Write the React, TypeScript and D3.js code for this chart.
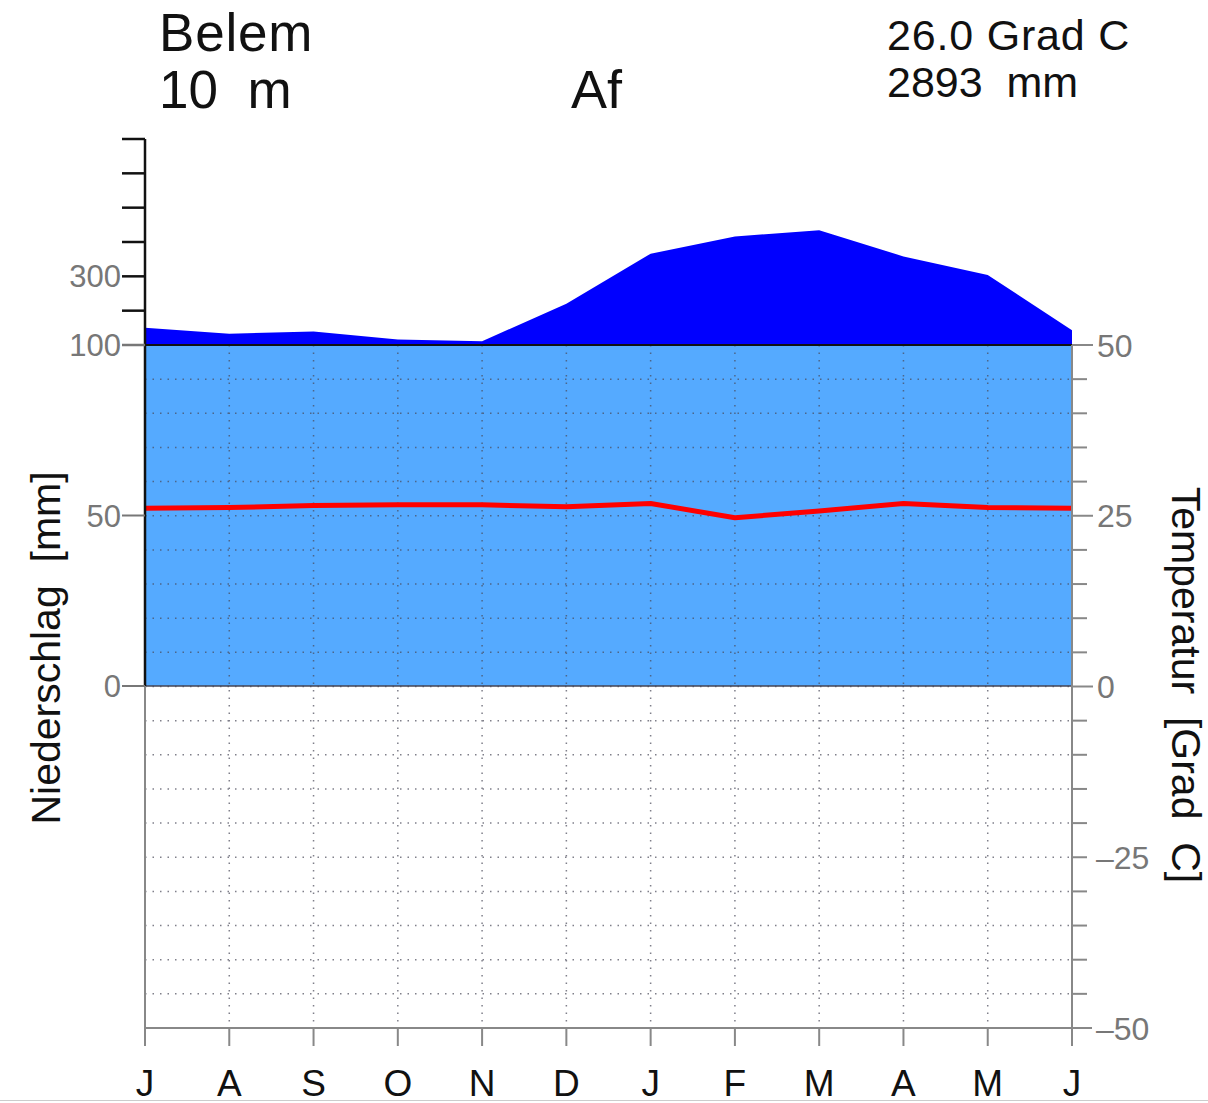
import React from 'react';
import * as d3 from 'd3';

// climate diagram data (July .. June)
const months = ['J', 'A', 'S', 'O', 'N', 'D', 'J', 'F', 'M', 'A', 'M', 'J'];
const precipitation = [150, 133, 139, 116, 111, 220, 366, 416, 434, 358, 304, 143];
const temperature = [26.1, 26.2, 26.5, 26.6, 26.6, 26.3, 26.8, 24.7, 25.7, 26.8, 26.2, 26.1];

const station = 'Belem';
const elevation = '10  m';
const climateClass = 'Af';
const meanTemp = '26.0 Grad C';
const totalPrecip = '2893  mm';

const precipTicksHigh = [100, 200, 300, 400, 500, 600, 700];
const precipLabels = [300, 100, 50, 0];
const tempLabels = [50, 25, 0, -25, -50];

const W = 1208;
const H = 1103;
const font = '"Liberation Sans", Arial, Helvetica, sans-serif';

function App() {
    const x = d3.scaleLinear().domain([0, months.length - 1]).range([145, 1072]);
    const yT = d3.scaleLinear().domain([-50, 50]).range([1028, 345]);
    // Walter-Lieth: 2 mm per degree below 100 mm, compressed above
    const yP = d3.scaleLinear().domain([0, 100, 700]).range([686, 345, 139]);

    const idx = d3.range(months.length);

    const darkArea = d3.area<number>()
        .x(i => x(i))
        .y0(yP(100))
        .y1(i => yP(Math.max(precipitation[i], 100)));

    const lightArea = d3.area<number>()
        .x(i => x(i))
        .y0(yP(0))
        .y1(i => yP(Math.min(precipitation[i], 100)));

    const tempLine = d3.line<number>()
        .x(i => x(i))
        .y(i => yT(temperature[i]));

    const gridT = d3.range(-45, 50, 5);
    const tickT = d3.range(-50, 55, 5);
    const [x0, x1] = x.range();

    return (
        <div style={{ position: 'absolute', left: 0, top: 0 }}>
            <svg width={W} height={H} style={{ display: 'block', background: '#fff' }} fontFamily={font}>
                {/* header */}
                <text x={159} y={51} fontSize={53} fill="#111" letterSpacing={0.8}>{station}</text>
                <text x={159} y={108} fontSize={53} fill="#111" style={{ whiteSpace: 'pre' }}>{elevation}</text>
                <text x={571} y={108} fontSize={54} fill="#111">{climateClass}</text>
                <text x={887} y={50} fontSize={43} fill="#111" letterSpacing={0.8} style={{ whiteSpace: 'pre' }}>{meanTemp}</text>
                <text x={887} y={97} fontSize={43} fill="#111" style={{ whiteSpace: 'pre' }}>{totalPrecip}</text>

                {/* precipitation areas */}
                <path d={lightArea(idx) || ''} fill="#55aaff" />
                <path d={darkArea(idx) || ''} fill="#0000ff" />

                {/* dotted grid */}
                <g stroke="#4a4a5a" strokeWidth={1.5} strokeDasharray="1.5,6" opacity={0.7}>
                    {gridT.map(t => (
                        <line key={'h' + t} x1={x0} x2={x1} y1={yT(t)} y2={yT(t)} />
                    ))}
                    {idx.slice(1, -1).map(i => (
                        <line key={'v' + i} x1={x(i)} x2={x(i)} y1={yT(50)} y2={yT(-50)} />
                    ))}
                </g>

                {/* reference lines */}
                <line x1={x0} x2={x1} y1={yP(100)} y2={yP(100)} stroke="#111" strokeWidth={2} />
                <line x1={x0} x2={x1} y1={yP(0)} y2={yP(0)} stroke="#445" strokeWidth={1.5} />

                {/* temperature */}
                <path d={tempLine(idx) || ''} fill="none" stroke="#ff0000" strokeWidth={5} strokeLinejoin="round" />

                {/* left axis */}
                <line x1={x0} x2={x0} y1={yP(700)} y2={yP(0)} stroke="#111" strokeWidth={2.5} />
                <line x1={x0} x2={x0} y1={yP(0)} y2={1046} stroke="#888" strokeWidth={2} />
                {precipTicksHigh.map(p => (
                    <line key={'pt' + p} x1={122} x2={x0} y1={yP(p)} y2={yP(p)} stroke={p === 100 ? '#777' : '#111'} strokeWidth={2.5} />
                ))}
                {[50, 0].map(p => (
                    <line key={'pl' + p} x1={122} x2={x0} y1={yP(p)} y2={yP(p)} stroke="#777" strokeWidth={2} />
                ))}
                {precipLabels.map(p => (
                    <text key={'plab' + p} x={121} y={yP(p)} dy="0.36em" textAnchor="end" fontSize={31} fill="#777">{p}</text>
                ))}

                {/* right axis */}
                <line x1={x1} x2={x1} y1={yT(50)} y2={1046} stroke="#888" strokeWidth={2} />
                {tickT.map(t => (
                    <line key={'tt' + t} x1={x1} x2={t >= 0 && t % 25 === 0 ? 1093 : 1087} y1={yT(t)} y2={yT(t)} stroke="#888" strokeWidth={2} />
                ))}
                {tempLabels.map(t => (
                    <text key={'tl' + t} x={t < 0 ? 1096 : 1097} y={yT(t)} dy="0.36em" fontSize={32} fill="#777">
                        {t < 0 ? '\u2013' + Math.abs(t) : String(t)}
                    </text>
                ))}

                {/* bottom axis */}
                <line x1={x0} x2={1092} y1={yT(-50)} y2={yT(-50)} stroke="#888" strokeWidth={2} />
                {idx.map(i => (
                    <line key={'mt' + i} x1={x(i)} x2={x(i)} y1={yT(-50)} y2={1046} stroke="#888" strokeWidth={2} />
                ))}
                {idx.map(i => (
                    <text key={'m' + i} x={x(i)} y={1096} textAnchor="middle" fontSize={37} fill="#111">{months[i]}</text>
                ))}

                {/* axis titles */}
                <text transform="translate(60,648) rotate(-90)" textAnchor="middle" fontSize={41} fill="#111" style={{ whiteSpace: 'pre' }}>
                    Niederschlag  [mm]
                </text>
                <text transform="translate(1172,685) rotate(90)" textAnchor="middle" fontSize={41} fill="#111" style={{ whiteSpace: 'pre' }}>
                    Temperatur  [Grad  C]
                </text>

                <line x1={0} x2={W} y1={1100.5} y2={1100.5} stroke="#ccc" strokeWidth={1} />
            </svg>
        </div>
    );
}

export default App;
